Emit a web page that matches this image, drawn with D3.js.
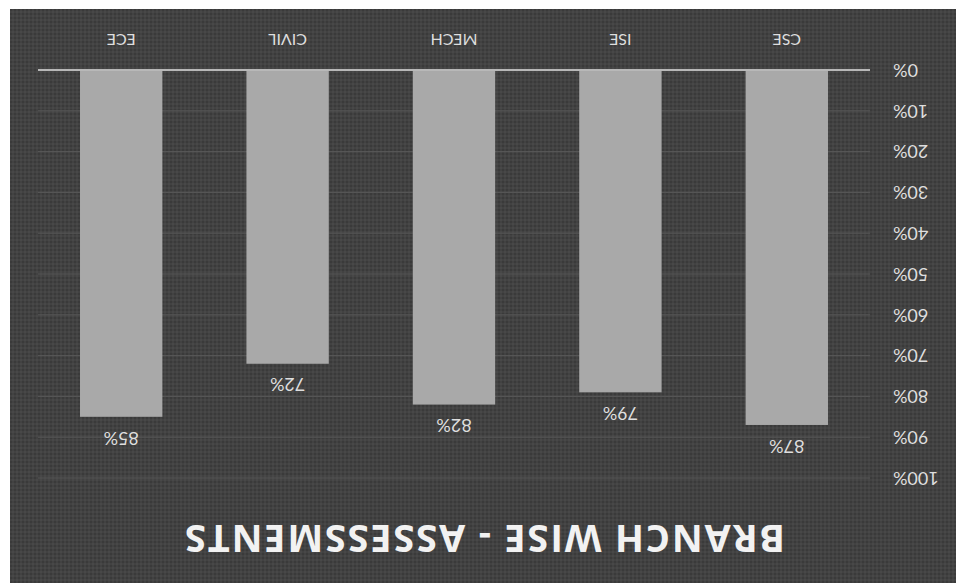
<!DOCTYPE html>
<html>
<head>
<meta charset="utf-8">
<script src="https://cdn.jsdelivr.net/npm/d3@7"></script>
<style>
  html, body { margin: 0; padding: 0; background: #ffffff; }
  svg { display: block; }
</style>
</head>
<body>
<svg id="chart" width="956" height="583"></svg>
<script>
// Branch-wise assessment completion
const branches = ["CSE", "ISE", "MECH", "CIVIL", "ECE"];
const scores = [0.87, 0.79, 0.82, 0.72, 0.85];
const tickValues = [0, 0.1, 0.2, 0.3, 0.4, 0.5, 0.6, 0.7, 0.8, 0.9, 1.0];
const chartTitle = "BRANCH WISE - ASSESSMENTS";

const W = 956, H = 583;
const labelFont = "Lato, 'Open Sans', sans-serif";
const svg = d3.select("#chart");

// The whole chart is drawn upside down (rotated half a turn about the centre)
const root = svg.append("g").attr("transform", `rotate(180, ${W / 2}, ${H / 2})`);

// textured dark panel
const defs = svg.append("defs");
const pat = defs.append("pattern")
  .attr("id", "weave").attr("width", 4).attr("height", 4)
  .attr("patternUnits", "userSpaceOnUse");
pat.append("rect").attr("width", 4).attr("height", 4).attr("fill", "#424242");
pat.append("rect").attr("x", 0).attr("y", 0).attr("width", 2).attr("height", 2).attr("fill", "#3a3a3a");
pat.append("rect").attr("x", 2).attr("y", 2).attr("width", 2).attr("height", 2).attr("fill", "#484848");

root.append("rect")
  .attr("x", 0).attr("y", 0).attr("width", 946).attr("height", 574)
  .attr("fill", "url(#weave)");

const plot = { left: 86, right: 918, top: 105, bottom: 513 };

const x = d3.scaleBand().domain(branches)
  .range([plot.left, plot.right]).paddingInner(0.505).paddingOuter(0.2525);
const y = d3.scaleLinear().domain([0, 1]).range([plot.bottom, plot.top]);

// gridlines
root.append("g").selectAll("line").data(tickValues.slice(1)).join("line")
  .attr("x1", plot.left).attr("x2", plot.right)
  .attr("y1", d => y(d)).attr("y2", d => y(d))
  .attr("stroke", "#585858").attr("stroke-width", 1);

// y axis labels
const yAxis = d3.axisLeft(y).tickValues(tickValues).tickFormat(d3.format(".0%")).tickSize(0).tickPadding(0);
const yg = root.append("g").attr("transform", "translate(63,0)").call(yAxis);
yg.select(".domain").remove();
yg.selectAll("text")
  .attr("fill", "#dedede").attr("font-family", labelFont)
  .attr("font-size", 18);

// bars
root.append("g").selectAll("rect").data(branches).join("rect")
  .attr("x", d => x(d)).attr("width", x.bandwidth())
  .attr("y", (d, i) => y(scores[i]))
  .attr("height", (d, i) => y(0) - y(scores[i]))
  .attr("fill", "#a9a9a9");

// value labels
root.append("g").selectAll("text").data(branches).join("text")
  .attr("x", d => x(d) + x.bandwidth() / 2)
  .attr("y", (d, i) => y(scores[i]) - 21)
  .attr("dy", "0.35em")
  .attr("text-anchor", "middle")
  .attr("fill", "#dedede").attr("font-family", labelFont)
  .attr("font-size", 18)
  .text((d, i) => d3.format(".0%")(scores[i]));

// baseline
root.append("line")
  .attr("x1", plot.left).attr("x2", plot.right)
  .attr("y1", y(0)).attr("y2", y(0))
  .attr("stroke", "#b8b8b8").attr("stroke-width", 2);

// category axis
const xAxis = d3.axisBottom(x).tickSize(0).tickPadding(0);
const xg = root.append("g").attr("transform", `translate(0,${y(0) + 30})`).call(xAxis);
xg.select(".domain").remove();
xg.selectAll("text")
  .attr("dy", "0.35em")
  .attr("fill", "#dedede").attr("font-family", labelFont)
  .attr("font-size", 16);

// title
root.append("text")
  .attr("x", 471).attr("y", 45).attr("dy", "0.35em")
  .attr("text-anchor", "middle")
  .attr("fill", "#f2f2f2")
  .attr("font-family", "Open Sans, DejaVu Sans, sans-serif")
  .attr("font-weight", "bold").attr("font-size", 38)
  .attr("textLength", 600).attr("lengthAdjust", "spacing")
  .text(chartTitle);
</script>
</body>
</html>
